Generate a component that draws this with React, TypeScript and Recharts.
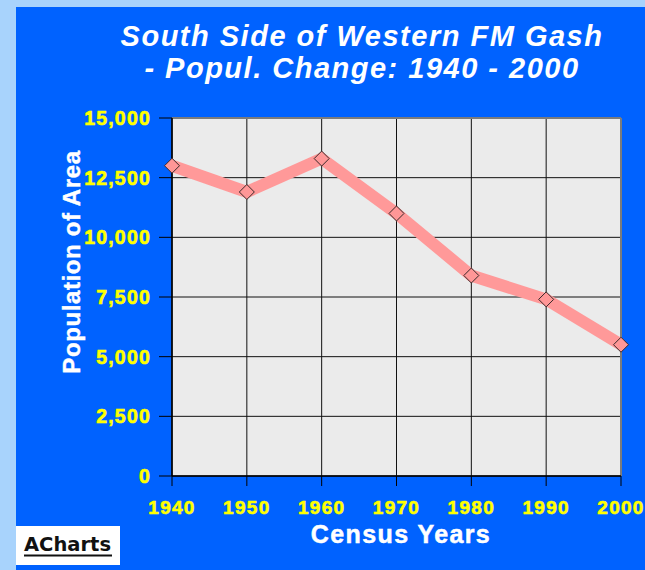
import {
  CartesianGrid,
  Line,
  LineChart,
  ReferenceLine,
  XAxis,
  YAxis,
} from 'recharts';

const years = [1940, 1950, 1960, 1970, 1980, 1990, 2000];
const population = [13000, 11900, 13300, 11000, 8400, 7400, 5500];
const yTicks = [0, 2500, 5000, 7500, 10000, 12500, 15000];

const titleLines = ['South Side of Western FM Gash', '- Popul. Change: 1940 - 2000'];
const xLabel = 'Census Years';
const yLabel = 'Population of Area';

const data = years.map((year, i) => ({ year, population: population[i] }));

const FONT = '"Liberation Sans", Arial, Helvetica, sans-serif';
const W = 645;
const H = 570;

const Diamond = (props: any) => {
  const { cx, cy } = props;
  if (cx == null || cy == null) return null;
  const r = 7.5;
  return (
    <path
      d={`M${cx},${cy - r} L${cx + r},${cy} L${cx},${cy + r} L${cx - r},${cy} Z`}
      fill="#ff9797"
      stroke="#3a2a2a"
      strokeWidth={1}
    />
  );
};

const tickStyle = {
  fill: '#ffff00',
  stroke: '#ffff00',
  strokeWidth: 0.6,
  fontWeight: 'bold',
  fontFamily: FONT,
};

const App = () => {
  return (
    <div style={{ position: 'absolute', left: 0, top: 0, width: W, height: H, background: '#a8d3fc' }}>
      <div style={{ position: 'absolute', left: 16, top: 7, right: 0, bottom: 0, background: '#0062ff' }} />
      <div style={{ position: 'absolute', left: 0, top: 0 }}>
        <LineChart width={W} height={H} data={data} margin={{ top: 118, right: 24, bottom: 0, left: 0 }}>
          <CartesianGrid stroke="#111" strokeWidth={1} fill="#ebebeb" fillOpacity={1} />
          <XAxis
            dataKey="year"
            type="number"
            domain={[1940, 2000]}
            ticks={years}
            height={94}
            tickSize={10}
            tickMargin={15}
            axisLine={{ stroke: '#000', strokeWidth: 1.5 }}
            tickLine={{ stroke: '#000' }}
            tick={{ ...tickStyle, fontSize: 19, letterSpacing: 1.3 }}
            interval={0}
          />
          <YAxis
            type="number"
            domain={[0, 15000]}
            ticks={yTicks}
            width={172}
            tickSize={13}
            tickMargin={8}
            axisLine={{ stroke: '#000', strokeWidth: 1.5 }}
            tickLine={{ stroke: '#000' }}
            tick={{ ...tickStyle, fontSize: 19.5, letterSpacing: 1.2 }}
            tickFormatter={(v: number) => v.toLocaleString('en-US')}
            interval={0}
          />
          <ReferenceLine y={15000} stroke="#7c7c7c" strokeWidth={2} />
          <ReferenceLine x={2000} stroke="#7c7c7c" strokeWidth={2} />
          <Line
            type="linear"
            dataKey="population"
            stroke="#ff9999"
            strokeWidth={12}
            dot={<Diamond />}
            activeDot={false}
            isAnimationActive={false}
          />
        </LineChart>
      </div>
      <svg
        width={W}
        height={H}
        style={{ position: 'absolute', left: 0, top: 0, pointerEvents: 'none' }}
      >
        <g fill="#fff" fontFamily={FONT} fontWeight="bold" fontStyle="italic" fontSize={29} letterSpacing={1.5}>
          <text x={362} y={46} textAnchor="middle">
            {titleLines[0]}
          </text>
          <text x={362} y={78} textAnchor="middle">
            {titleLines[1]}
          </text>
        </g>
        <text
          x={401}
          y={543}
          textAnchor="middle"
          fill="#fff"
          stroke="#fff"
          strokeWidth={0.5}
          fontFamily={FONT}
          fontWeight="bold"
          fontSize={25}
          letterSpacing={1.4}
        >
          {xLabel}
        </text>
        <text
          x={80}
          y={262}
          transform="rotate(-90 80 262)"
          textAnchor="middle"
          fill="#fff"
          stroke="#fff"
          strokeWidth={0.4}
          fontFamily={FONT}
          fontWeight="bold"
          fontSize={24}
          letterSpacing={0.6}
        >
          {yLabel}
        </text>
        <rect x={16} y={526} width={104} height={39} fill="#fff" />
        <text
          x={24}
          y={551}
          fill="#111"
          fontFamily='"DejaVu Sans", Verdana, sans-serif'
          fontWeight="bold"
          fontSize={19.5}
        >
          ACharts
        </text>
        <line x1={24} x2={112} y1={555.5} y2={555.5} stroke="#111" strokeWidth={2} />
      </svg>
    </div>
  );
};

export default App;
